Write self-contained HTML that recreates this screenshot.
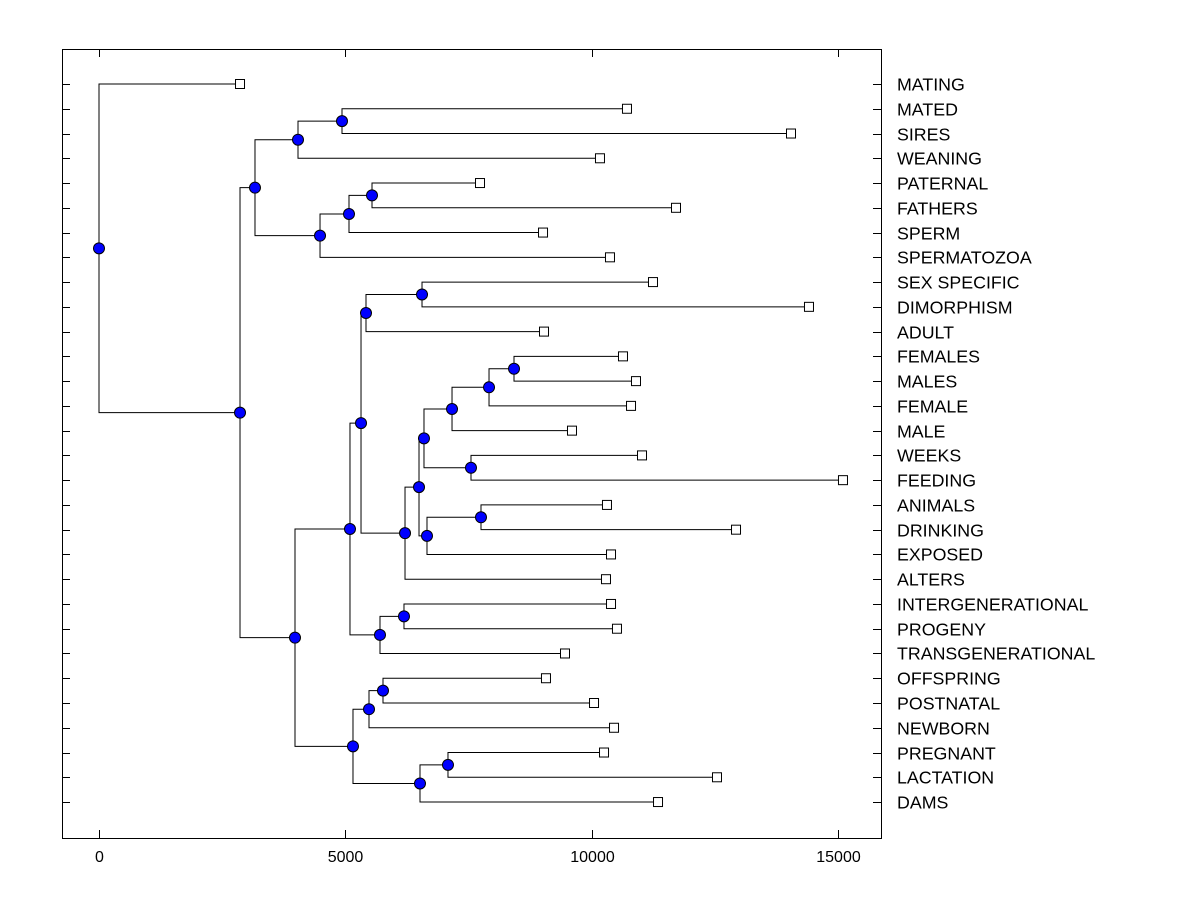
<!DOCTYPE html>
<html><head><meta charset="utf-8"><style>
body{margin:0;background:#fff}
svg{display:block;font-family:"Liberation Sans",Arial,sans-serif}
</style></head><body>
<svg id="chart" width="1200" height="900">
<rect x="0" y="0" width="1200" height="900" fill="#fff"/>
<rect x="62.5" y="49.5" width="819" height="789" fill="none" stroke="#000" stroke-width="1"/>
<g id="g"></g>
</svg>
<script>
const labels=["MATING","MATED","SIRES","WEANING","PATERNAL","FATHERS","SPERM","SPERMATOZOA","SEX SPECIFIC","DIMORPHISM","ADULT","FEMALES","MALES","FEMALE","MALE","WEEKS","FEEDING","ANIMALS","DRINKING","EXPOSED","ALTERS","INTERGENERATIONAL","PROGENY","TRANSGENERATIONAL","OFFSPRING","POSTNATAL","NEWBORN","PREGNANT","LACTATION","DAMS"];
const leafValues=[2862,10716,14045,10168,7733,11711,9012,10371,11244,14410,9032,10635,10899,10798,9600,11021,15100,10310,12929,10392,10290,10392,10513,9458,9072,10047,10453,10250,12543,11346];
const mergeNames=["A","B","C","D","E","F","G","H","I","J","K","L","M","N","O","P","Q","R","S","T","U","V","W","X","Y","Z","AA","BB","ROOT"];
const mergeLeft=[1,"A",4,"C","D","B",8,"G",11,"I","J",15,"K",17,"N","M","P","H",21,"S","R",24,"V",27,"X","W","U","F",0];
const mergeRight=[2,3,5,6,7,"E",9,10,12,13,14,16,"L",18,19,"O",20,"Q",22,23,"T",25,26,28,29,"Y","Z","AA","BB"];
const mergeHeights=[4932,4039,5541,5074,4486,3166,6556,5419,8423,7916,7165,7550,6596,7753,6657,6495,6211,5318,6190,5703,5094,5764,5480,7083,6515,5155,3978,2862,0];
const xTicks=[0,5000,10000,15000];

const NS="http://www.w3.org/2000/svg";
const g=document.getElementById('g');
const X=v=>99+v*0.04927;
const Y=i=>84+i*24.76;
function el(tag,attrs){const e=document.createElementNS(NS,tag);for(const k in attrs)e.setAttribute(k,attrs[k]);g.appendChild(e);return e;}
xTicks.forEach(t=>{
 const x=Math.round(X(t))+0.5;
 let e=el('line',{x1:x,x2:x,y1:838,y2:830,stroke:'#000'});
 
 
 e=el('line',{x1:x,x2:x,y1:49,y2:57,stroke:'#000'});
 
 
 e=el('text',{x:x,y:862,'text-anchor':'middle','font-size':'16'});e.textContent=t;
 
 
});
labels.forEach((l,i)=>{
 const y=Math.round(Y(i))+0.5;
 let e=el('line',{x1:62,x2:70,y1:y,y2:y,stroke:'#000'});
 
 
 e=el('line',{x1:873,x2:881,y1:y,y2:y,stroke:'#000'});
 
 
 e=el('text',{x:897,y:y+6,'font-size':'17.8'});e.textContent=l;
 
 
});
const pos={};
function get(c){return typeof c==='number'?{x:X(leafValues[c]),y:Y(c),leaf:true}:pos[c];}
const nodes=[];
mergeNames.forEach((n,k)=>{
 const a=get(mergeLeft[k]),b=get(mergeRight[k]);
 const x=X(mergeHeights[k]);
 pos[n]={x:x,y:(a.y+b.y)/2};
 let e=el('path',{d:`M${a.x},${a.y}H${x}V${b.y}H${b.x}`,fill:'none',stroke:'#000','stroke-width':'1'});
 
 
 nodes.push(pos[n]);
});
leafValues.forEach((v,i)=>{
 const e=el('rect',{x:X(v)-4.5,y:Y(i)-4.5,width:9,height:9,fill:'#fff',stroke:'#000'});
 
 
});
nodes.forEach(p=>{
 const e=el('circle',{cx:p.x,cy:p.y,r:5.5,fill:'#0000ff',stroke:'#000','stroke-width':'1'});
 
 
});
</script>
</body></html>
